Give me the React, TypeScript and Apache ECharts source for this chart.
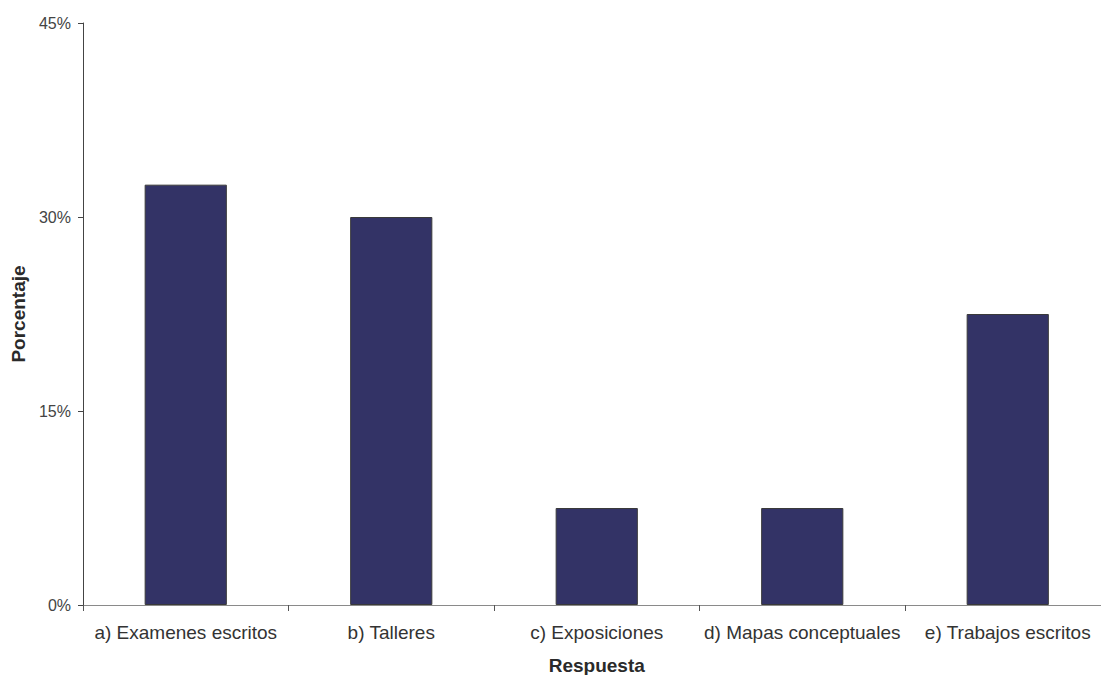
import React, { useEffect, useRef } from "react";
import * as echarts from "echarts";

const categories = [
  "a) Examenes escritos",
  "b) Talleres",
  "c) Exposiciones",
  "d) Mapas conceptuales",
  "e) Trabajos escritos",
];
const values = [32.5, 30, 7.5, 7.5, 22.5];
const yTicks = [0, 15, 30, 45];

export default function App() {
  const ref = useRef<HTMLDivElement>(null);
  useEffect(() => {
    const chart = echarts.init(ref.current!, null, { renderer: "svg" });
    chart.setOption({
      animation: false,
      backgroundColor: "#ffffff",
      textStyle: { fontFamily: "Liberation Sans, Arial, sans-serif" },
      grid: {
        left: 83,
        top: 23,
        width: 1027.5,
        bottom: 70,
        containLabel: false,
        outerBoundsMode: "none",
      },
      xAxis: {
        type: "category",
        data: categories,
        name: "Respuesta",
        nameLocation: "middle",
        nameGap: 51,
        nameTextStyle: { fontSize: 19, fontWeight: "bold", color: "#2a2a2a" },
        axisLine: { lineStyle: { color: "#8a8a8a", width: 1 } },
        axisTick: { show: true, alignWithLabel: false, length: 6, lineStyle: { color: "#555" } },
        axisLabel: { fontSize: 19, color: "#333", margin: 18, interval: 0 },
      },
      yAxis: {
        type: "value",
        min: 0,
        max: yTicks[yTicks.length - 1],
        interval: 15,
        name: "Porcentaje",
        nameLocation: "middle",
        nameGap: 54,
        nameRotate: 90,
        nameTextStyle: { fontSize: 19, fontWeight: "bold", color: "#2a2a2a" },
        axisLine: { show: true, lineStyle: { color: "#444", width: 1 } },
        axisTick: { show: true, length: 5, lineStyle: { color: "#444" } },
        axisLabel: { fontSize: 16, color: "#444", margin: 12, formatter: "{value}%" },
        splitLine: { show: false },
      },
      series: [
        {
          type: "bar",
          data: values,
          barWidth: "40%",
          itemStyle: { color: "#333366", borderColor: "#3a3a3a", borderWidth: 1 },
        },
      ],
    });
    return () => chart.dispose();
  }, []);
  return (
    <div
      ref={ref}
      style={{ position: "fixed", left: 0, top: 0, width: 1101, height: 675 }}
    />
  );
}
